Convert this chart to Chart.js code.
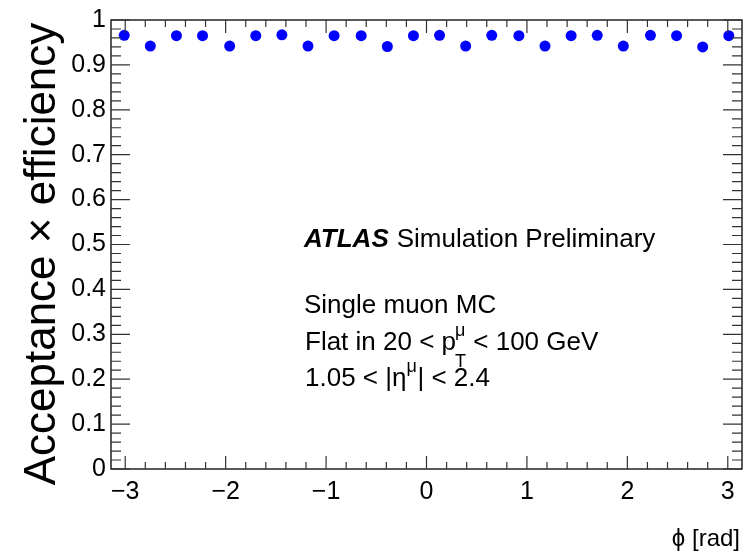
<!DOCTYPE html>
<html>
<head>
<meta charset="utf-8">
<script src="https://cdn.jsdelivr.net/npm/chart.js@4/dist/chart.umd.min.js"></script>
<style>
    html, body { margin: 0; padding: 0; background: #fff; }
    #wrap { width: 751px; height: 552px; }
</style>
</head>
<body>
<div id="wrap"><canvas id="accChart" width="751" height="552"></canvas></div>
<script>
// Bin centres in phi [rad] (24 bins over -pi..pi)
const phiCentres = [-3.01, -2.75, -2.49, -2.23, -1.96, -1.70, -1.44, -1.18, -0.92, -0.65, -0.39, -0.13,
                    0.13, 0.39, 0.65, 0.92, 1.18, 1.44, 1.70, 1.96, 2.23, 2.49, 2.75, 3.01];
// Acceptance x efficiency per bin
const accEff = [0.966, 0.942, 0.965, 0.965, 0.942, 0.965, 0.967, 0.942, 0.965, 0.965, 0.941, 0.965,
                0.966, 0.942, 0.966, 0.965, 0.942, 0.965, 0.966, 0.942, 0.966, 0.965, 0.940, 0.965];
// Tick labels
const xTicks = [-3, -2, -1, 0, 1, 2, 3];
const yTicks = [0, 0.1, 0.2, 0.3, 0.4, 0.5, 0.6, 0.7, 0.8, 0.9, 1];

const FONT = '"Liberation Sans", Arial, Helvetica, sans-serif';

// Draws the ROOT-style frame with inward ticks on all four sides
const frameTicks = {
    id: 'frameTicks',
    afterDraw(chart) {
        const { ctx, chartArea: a, scales: { x, y } } = chart;
        ctx.save();
        ctx.strokeStyle = '#000';
        ctx.lineWidth = 1.3;
        ctx.strokeRect(a.left, a.top, a.right - a.left, a.bottom - a.top);

        ctx.lineWidth = 1.2;
        ctx.strokeStyle = '#333';
        ctx.beginPath();
        // x ticks: major every 1, minor every 0.2
        for (let i = -16; i <= 16; i++) {
            const v = i * 0.2;
            if (v < x.min || v > x.max) continue;
            const px = x.getPixelForValue(v);
            const len = (i % 5 === 0) ? 13 : 7;
            ctx.moveTo(px, a.bottom); ctx.lineTo(px, a.bottom - len);
            ctx.moveTo(px, a.top); ctx.lineTo(px, a.top + len);
        }
        // y ticks: major every 0.1, minor every 0.02
        for (let i = 0; i <= 50; i++) {
            const py = y.getPixelForValue(i * 0.02);
            const len = (i % 5 === 0) ? 19 : 10;
            ctx.moveTo(a.left, py); ctx.lineTo(a.left + len, py);
            ctx.moveTo(a.right, py); ctx.lineTo(a.right - len, py);
        }
        ctx.stroke();
        ctx.restore();
    }
};

// Axis titles and the ATLAS label
const labels = {
    id: 'labels',
    afterDraw(chart) {
        const ctx = chart.ctx;
        ctx.save();
        ctx.fillStyle = '#000';
        ctx.textBaseline = 'alphabetic';

        // y axis title
        ctx.save();
        ctx.translate(55, 254);
        ctx.rotate(-Math.PI / 2);
        ctx.textAlign = 'center';
        ctx.font = `44px ${FONT}`;
        ctx.fillText('Acceptance \u00d7 efficiency', 0, 0);
        ctx.restore();

        // x axis title
        ctx.textAlign = 'right';
        ctx.font = `24px ${FONT}`;
        ctx.fillText('\u03d5 [rad]', 740, 546);

        // ATLAS label
        ctx.textAlign = 'left';
        let xPos = 304;
        ctx.font = `italic bold 26px ${FONT}`;
        ctx.fillText('ATLAS', xPos, 247);
        xPos += ctx.measureText('ATLAS').width + 8;
        ctx.font = `26px ${FONT}`;
        ctx.fillText('Simulation Preliminary', xPos, 247);

        ctx.fillText('Single muon MC', 304, 313);

        // Flat in 20 < p_T^mu < 100 GeV
        xPos = 305;
        let s = 'Flat in 20 < p';
        ctx.fillText(s, xPos, 350);
        xPos += ctx.measureText(s).width;
        ctx.font = `18px ${FONT}`;
        ctx.fillText('\u03bc', xPos - 1, 336);
        ctx.fillText('T', xPos - 1, 367);
        xPos += 10;
        ctx.font = `26px ${FONT}`;
        ctx.fillText(' < 100 GeV', xPos, 350);

        // 1.05 < |eta^mu| < 2.4
        xPos = 305;
        s = '1.05 < |\u03b7';
        ctx.fillText(s, xPos, 386);
        xPos += ctx.measureText(s).width;
        ctx.font = `18px ${FONT}`;
        ctx.fillText('\u03bc', xPos, 372);
        xPos += 11;
        ctx.font = `26px ${FONT}`;
        ctx.fillText('| < 2.4', xPos, 386);

        ctx.restore();
    }
};

function initChart() {
    const ctx = document.getElementById('accChart');
    new Chart(ctx, {
        type: 'scatter',
        data: {
            datasets: [{
                label: 'Acceptance x efficiency',
                data: phiCentres.map((p, i) => ({ x: p, y: accEff[i] })),
                backgroundColor: '#0000ff',
                borderColor: '#0000ff',
                borderWidth: 0,
                pointRadius: 5.5,
                pointHoverRadius: 5.5
            }]
        },
        options: {
            responsive: false,
            devicePixelRatio: 1,
            animation: false,
            layout: { padding: { top: 16, right: 9, left: 0, bottom: 0 } },
            plugins: {
                legend: { display: false },
                tooltip: { enabled: false }
            },
            scales: {
                x: {
                    type: 'linear',
                    min: -Math.PI,
                    max: Math.PI,
                    afterBuildTicks: (scale) => { scale.ticks = xTicks.map(v => ({ value: v })); },
                    afterFit: (scale) => { scale.height = 83; },
                    grid: { display: false, drawTicks: false },
                    border: { display: false },
                    ticks: {
                        padding: 8,
                        color: '#000',
                        font: { family: FONT, size: 25 },
                        callback: (v) => (v < 0 ? '\u2212' + Math.abs(v) : String(v))
                    }
                },
                y: {
                    type: 'linear',
                    min: 0,
                    max: 1,
                    afterBuildTicks: (scale) => { scale.ticks = yTicks.map(v => ({ value: v })); },
                    afterFit: (scale) => { scale.width = 111; },
                    grid: { display: false, drawTicks: false },
                    border: { display: false },
                    ticks: {
                        padding: 5,
                        color: '#000',
                        font: { family: FONT, size: 25 },
                        callback: (v) => String(Math.round(v * 10) / 10)
                    }
                }
            }
        },
        plugins: [frameTicks, labels]
    });
}

if (document.readyState === 'loading') {
    document.addEventListener('DOMContentLoaded', initChart);
} else {
    initChart();
}
</script>
</body>
</html>
